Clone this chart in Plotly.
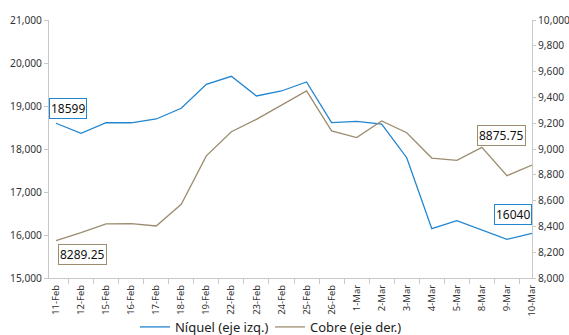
import plotly.graph_objects as go

fechas = ["11-Feb", "12-Feb", "15-Feb", "16-Feb", "17-Feb", "18-Feb", "19-Feb",
          "22-Feb", "23-Feb", "24-Feb", "25-Feb", "26-Feb", "1-Mar", "2-Mar",
          "3-Mar", "4-Mar", "5-Mar", "8-Mar", "9-Mar", "10-Mar"]
niquel = [18599, 18365, 18610, 18610, 18698, 18947, 19505, 19690, 19233, 19349,
          19558, 18612, 18644, 18581, 17798, 16147, 16333, 16116, 15900, 16040]
cobre = [8289.25, 8351, 8419, 8421, 8403, 8571, 8947, 9134, 9230, 9339,
         9450, 9140, 9088, 9217, 9126, 8930, 8912, 9013, 8793, 8875.75]

AZUL = "#2185d0"
CAFE = "#9c8c70"
FONT = "Noto Sans"

fig = go.Figure()
fig.add_trace(go.Scatter(x=fechas, y=niquel, name="Níquel (eje izq.)", mode="lines",
                         line=dict(color=AZUL, width=1.3)))
fig.add_trace(go.Scatter(x=fechas, y=cobre, name="Cobre (eje der.)", mode="lines",
                         line=dict(color=CAFE, width=1.3), yaxis="y2"))

def etiqueta(x, y, texto, color, yref, xs, ys):
    fig.add_annotation(x=x, y=y, xref="x", yref=yref, text=texto, showarrow=False,
                       xshift=xs, yshift=ys, bordercolor=color, borderwidth=1,
                       borderpad=1, bgcolor="white",
                       font=dict(family=FONT, size=12, color="#111"))

etiqueta(fechas[0], niquel[0], str(niquel[0]), AZUL, "y", 12, 15)
etiqueta(fechas[0], cobre[0], str(cobre[0]), CAFE, "y2", 26, -14)
etiqueta(fechas[-1], cobre[-1], str(cobre[-1]), CAFE, "y2", -31, 30)
etiqueta(fechas[-1], niquel[-1], str(niquel[-1]), AZUL, "y", -19, 19)

axis_common = dict(showgrid=False, zeroline=False, showline=True, linecolor="#c8c8c8",
                   linewidth=1, ticks="outside", tickcolor="#c8c8c8", ticklen=4,
                   automargin=False,
                   tickfont=dict(family=FONT, size=10.2, color="#333"))

fig.update_layout(
    width=569, height=335,
    margin=dict(l=49, r=37, t=20, b=57),
    paper_bgcolor="white", plot_bgcolor="white",
    showlegend=True,
    legend=dict(orientation="h", x=0.178, xanchor="left", yref="container",
                y=0.024, yanchor="middle", bgcolor="rgba(0,0,0,0)",
                font=dict(family=FONT, size=13, color="#222"), tracegroupgap=0,
                entrywidth=90, itemwidth=30),
    xaxis=dict(type="category", tickangle=-90, tickson="boundaries", ticklen=5,
               ticklabelstandoff=2,
               **{**{k: v for k, v in axis_common.items() if k != "ticklen"},
                  "tickfont": dict(family=FONT, size=9.5, color="#333")}),
    yaxis=dict(range=[15000, 21000], dtick=1000, tickformat=",", **axis_common),
    yaxis2=dict(range=[8000, 10000], dtick=200, tickformat=",", overlaying="y",
                side="right", **{**axis_common, "ticklen": 3}),
)

fig.write_html("out.html")
